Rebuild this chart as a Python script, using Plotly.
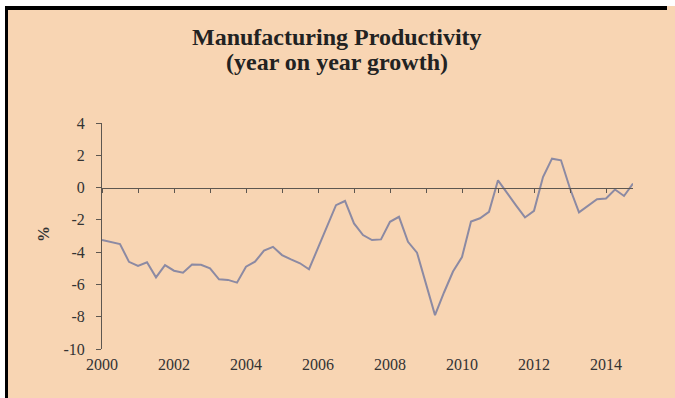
import plotly.graph_objects as go

# Quarterly observations, 2000Q1 .. 2014Q4
start_year = 2000
growth = [
    -3.25, -3.36, -3.50, -4.60, -4.86, -4.63, -5.56, -4.80,
    -5.15, -5.27, -4.76, -4.78, -5.00, -5.68, -5.72, -5.89,
    -4.90, -4.59, -3.91, -3.67, -4.18, -4.45, -4.69, -5.06,
    -3.70, -2.39, -1.09, -0.83, -2.22, -2.94, -3.25, -3.21,
    -2.12, -1.81, -3.36, -4.03, -5.90, -7.90, -6.50, -5.20,
    -4.30, -2.10, -1.90, -1.50, 0.45, -0.35, -1.10, -1.85,
    -1.44, 0.65, 1.79, 1.69, -0.06, -1.54, -1.15, -0.72,
    -0.68, -0.12, -0.52, 0.25,
]
x_vals = [start_year + i / 4 for i in range(len(growth))]

x_tick_vals = [2000, 2002, 2004, 2006, 2008, 2010, 2012, 2014]
x_tick_text = ["2000", "2002", "2004", "2006", "2008", "2010", "2012", "2014"]
y_tick_vals = [4, 2, 0, -2, -4, -6, -8, -10]
y_tick_text = ["4", "2", "0", "-2", "-4", "-6", "-8", "-10"]

title_line1 = "<b>Manufacturing Productivity</b>"
title_line2 = "<b>(year on year growth)</b>"
y_title = "<b>%</b>"

BG = "#F8D5B3"
LINE = "#8C8AA3"
AXIS = "#5E5750"
TXT = "#333333"
FONT = "Liberation Serif"

W, H = 675, 398
ML, MR, MT, MB = 102, 42, 123, 49
PW, PH = W - ML - MR, H - MT - MB

def px(x):
    return (x - ML) / PW

def py(y):
    return (H - MB - y) / PH

fig = go.Figure()
fig.add_trace(go.Scatter(x=x_vals, y=growth, mode="lines",
                         line=dict(color=LINE, width=2),
                         showlegend=False, hoverinfo="skip"))
# helper trace so the zero-line axis is drawn
fig.add_trace(go.Scatter(x=x_vals, y=growth, mode="lines", xaxis="x2",
                         line=dict(color="rgba(0,0,0,0)", width=0),
                         showlegend=False, hoverinfo="skip"))

xr = [2000, 2014.75]
fig.update_layout(
    width=W, height=H,
    margin=dict(l=ML, r=MR, t=MT, b=MB, pad=0),
    paper_bgcolor=BG, plot_bgcolor=BG,
    font=dict(family=FONT, color=TXT, size=16),
    xaxis=dict(range=xr, tickvals=x_tick_vals, ticktext=x_tick_text,
               showline=False, ticks="", showgrid=False, zeroline=False,
               ticklabelstandoff=4, tickfont=dict(size=16, color=TXT)),
    xaxis2=dict(range=xr, overlaying="x", anchor="free", position=10 / 14,
                side="bottom", showline=True, linecolor=AXIS, linewidth=1,
                ticks="outside", tickcolor=AXIS, ticklen=4, tickwidth=1,
                dtick=1, tick0=2000, showticklabels=False, showgrid=False,
                zeroline=False),
    yaxis=dict(range=[-10, 4], tickvals=y_tick_vals, ticktext=y_tick_text,
               showline=True, linecolor=AXIS, linewidth=1,
               ticks="outside", tickcolor=AXIS, ticklen=5,
               showgrid=False, zeroline=False, ticklabelstandoff=8,
               tickfont=dict(size=16, color=TXT)),
    shapes=[
        dict(type="rect", xref="paper", yref="paper", x0=px(0), x1=px(W),
             y0=py(6), y1=py(0), fillcolor="white", line=dict(width=0), layer="above"),
        dict(type="rect", xref="paper", yref="paper", x0=px(0), x1=px(5),
             y0=py(H), y1=py(0), fillcolor="white", line=dict(width=0), layer="above"),
        dict(type="rect", xref="paper", yref="paper", x0=px(5), x1=px(667),
             y0=py(10), y1=py(6), fillcolor="black", line=dict(width=0), layer="above"),
        dict(type="rect", xref="paper", yref="paper", x0=px(5), x1=px(8),
             y0=py(H), y1=py(6), fillcolor="black", line=dict(width=0), layer="above"),
    ],
    annotations=[
        dict(text=title_line1, xref="paper", yref="paper", x=px(337), y=py(37),
             showarrow=False, xanchor="center", yanchor="middle",
             font=dict(family=FONT, size=24, color="#222222")),
        dict(text=title_line2, xref="paper", yref="paper", x=px(337), y=py(62),
             showarrow=False, xanchor="center", yanchor="middle",
             font=dict(family=FONT, size=24, color="#222222")),
        dict(text=y_title, xref="paper", yref="paper", x=px(43), y=py(234),
             showarrow=False, textangle=-90, xanchor="center", yanchor="middle",
             font=dict(family=FONT, size=16, color=TXT)),
    ],
)

fig.write_html("out.html", config={"displayModeBar": False},
               post_script="document.body.style.margin='0px';")
